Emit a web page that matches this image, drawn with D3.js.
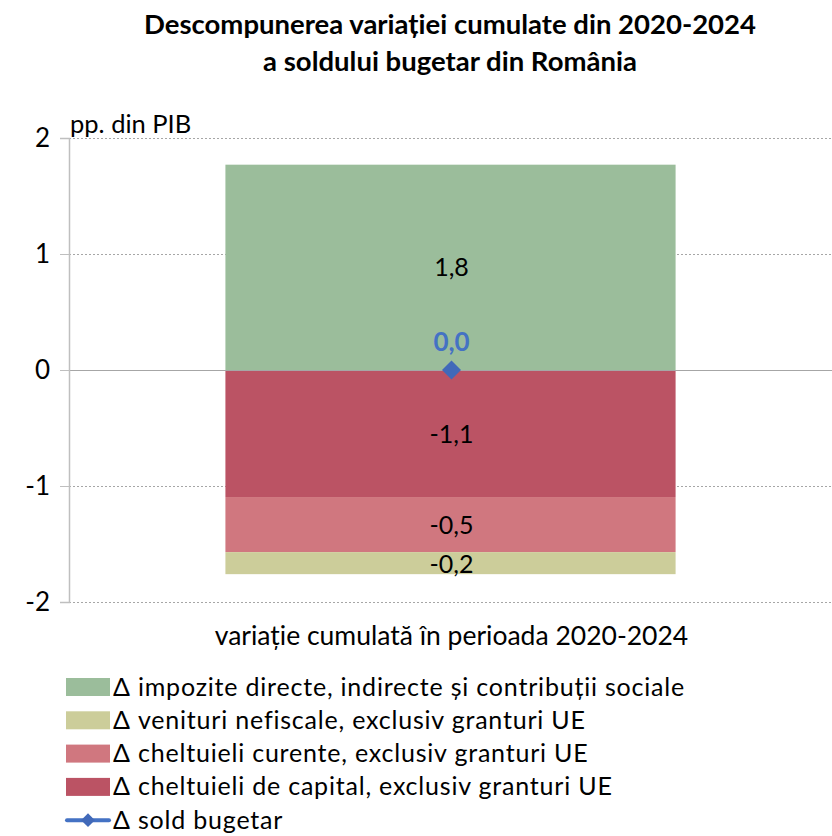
<!DOCTYPE html>
<html lang="ro">
<head>
<meta charset="UTF-8">
<title>Descompunerea variației cumulate</title>
<script src="https://d3js.org/d3.v7.min.js"></script>
<style>
  body { margin: 0; background: #fff; font-family: Lato, 'Open Sans', sans-serif; }
  svg text { fill: #000; }
  .grid line { stroke: #a6a6a6; stroke-dasharray: 2,2; }
</style>
</head>
<body>
<svg id="chart" width="832" height="836"></svg>
<script>
// --- data ---
const categories = ["variație cumulată în perioada 2020-2024"];
const seriesNames = [
  "Δ impozite directe, indirecte și contribuții sociale",
  "Δ venituri nefiscale, exclusiv granturi UE",
  "Δ cheltuieli curente, exclusiv granturi UE",
  "Δ cheltuieli de capital, exclusiv granturi UE"
];
const seriesValues = [1.77, -0.19, -0.475, -1.095];
const seriesColors = ["#9bbd9b", "#cccd9a", "#d0777f", "#bb5364"];
// order in which segments stack away from zero
const stackOrder = [0, 3, 2, 1];
const lineName = "Δ sold bugetar";
const lineValue = [0.0];
const yTicks = [-2, -1, 0, 1, 2];

const svg = d3.select("#chart");
const margin = { top: 138, right: 0, bottom: 234, left: 69 };
const W = 832, H = 836;

const y = d3.scaleLinear().domain([-2, 2]).range([H - margin.bottom, margin.top]);
const x = d3.scaleBand().domain(categories).range([margin.left, W - margin.right])
  .paddingInner(0.41).paddingOuter(0.205);

const fmt = v => d3.format(".1f")(v).replace(".", ",").replace("−", "-");

// title
const title = svg.append("text").attr("x", 450).attr("text-anchor", "middle")
  .style("font-weight", "bold").style("font-size", "27.5px");
title.append("tspan").attr("x", 450).attr("y", 34).text("Descompunerea variației cumulate din 2020-2024");
title.append("tspan").attr("x", 450).attr("y", 71).text("a soldului bugetar din România");

// grid
svg.append("g").attr("class", "grid")
  .selectAll("line").data(yTicks).join("line")
  .attr("x1", margin.left).attr("x2", W)
  .attr("y1", d => Math.round(y(d)) + 0.5).attr("y2", d => Math.round(y(d)) + 0.5);

// stacked segments
let pos = 0, neg = 0;
const segs = stackOrder.map(i => {
  const v = seriesValues[i];
  let y0, y1;
  if (v >= 0) { y0 = pos; y1 = pos + v; pos = y1; }
  else { y0 = neg; y1 = neg + v; neg = y1; }
  return { i, v, y0, y1 };
});

const cat = categories[0];
svg.append("g").selectAll("rect").data(segs).join("rect")
  .attr("x", x(cat)).attr("width", x.bandwidth())
  .attr("y", d => y(Math.max(d.y0, d.y1)))
  .attr("height", d => Math.abs(y(d.y0) - y(d.y1)))
  .attr("fill", d => seriesColors[d.i]);

svg.append("g").selectAll("text").data(segs).join("text")
  .attr("x", x(cat) + x.bandwidth() / 2 + 1)
  .attr("y", d => y((d.y0 + d.y1) / 2) + (d.i === 1 ? 1 : 0))
  .attr("dy", "0.36em")
  .attr("text-anchor", "middle")
  .style("font-size", "25px")
  .text(d => fmt(d.v));

// zero line over bars
svg.append("line")
  .attr("x1", margin.left).attr("x2", W)
  .attr("y1", Math.round(y(0)) + 0.5).attr("y2", Math.round(y(0)) + 0.5)
  .attr("stroke", "#a6a6a6").attr("stroke-width", 1);

// y axis
const yAxis = svg.append("g").attr("transform", `translate(${margin.left},0)`)
  .call(d3.axisLeft(y).tickValues(yTicks).tickSize(9).tickPadding(10).tickFormat(d => d3.format("d")(d).replace("−", "-")));
yAxis.select(".domain").attr("stroke", "#bfbfbf").attr("stroke-width", 1.5);
yAxis.selectAll(".tick line").attr("stroke", "#bfbfbf");
yAxis.selectAll(".tick text").style("font-size", "26px").style("font-family", "Lato, sans-serif").attr("fill", "#000");

svg.append("text").attr("x", 70).attr("y", 133).style("font-size", "25.5px").text("pp. din PIB");

// x label
svg.append("text").attr("x", x(cat) + x.bandwidth() / 2 + 1).attr("y", 645)
  .attr("text-anchor", "middle").style("font-size", "26.5px").text(cat);

// line series marker
const cx = x(cat) + x.bandwidth() / 2 + 1;
svg.append("path")
  .attr("d", d3.symbol(d3.symbolDiamond2, 230)())
  .attr("transform", `translate(${cx},${y(lineValue[0])})`)
  .attr("fill", "#4169b9");
svg.append("text").attr("x", cx).attr("y", y(lineValue[0]) - 19)
  .attr("text-anchor", "middle").style("font-size", "26px").style("font-weight", "bold")
  .style("fill", "#4472c4").text(fmt(lineValue[0]));

// legend
const legendItems = seriesNames.map((n, i) => ({ name: n, color: seriesColors[i], type: "rect" }))
  .concat([{ name: lineName, color: "#4472c4", type: "line" }]);
const leg = svg.append("g").attr("transform", "translate(66,687)");
const row = leg.selectAll("g").data(legendItems).join("g")
  .attr("transform", (d, i) => `translate(0,${i * 33.3})`);
row.filter(d => d.type === "rect").append("rect")
  .attr("x", 0).attr("y", -9).attr("width", 44).attr("height", 18).attr("fill", d => d.color);
row.filter(d => d.type === "line").append("line")
  .attr("x1", 1).attr("x2", 43).attr("y1", 0).attr("y2", 0)
  .attr("stroke", d => d.color).attr("stroke-width", 4).attr("stroke-linecap", "round");
row.filter(d => d.type === "line").append("path")
  .attr("d", d3.symbol(d3.symbolDiamond2, 120)())
  .attr("transform", "translate(22,0)").attr("fill", "#4169b9");
row.append("text").attr("x", 47).attr("dy", "0.34em")
  .style("font-size", "25px").style("letter-spacing", "0.8px").text(d => d.name);
</script>
</body>
</html>
